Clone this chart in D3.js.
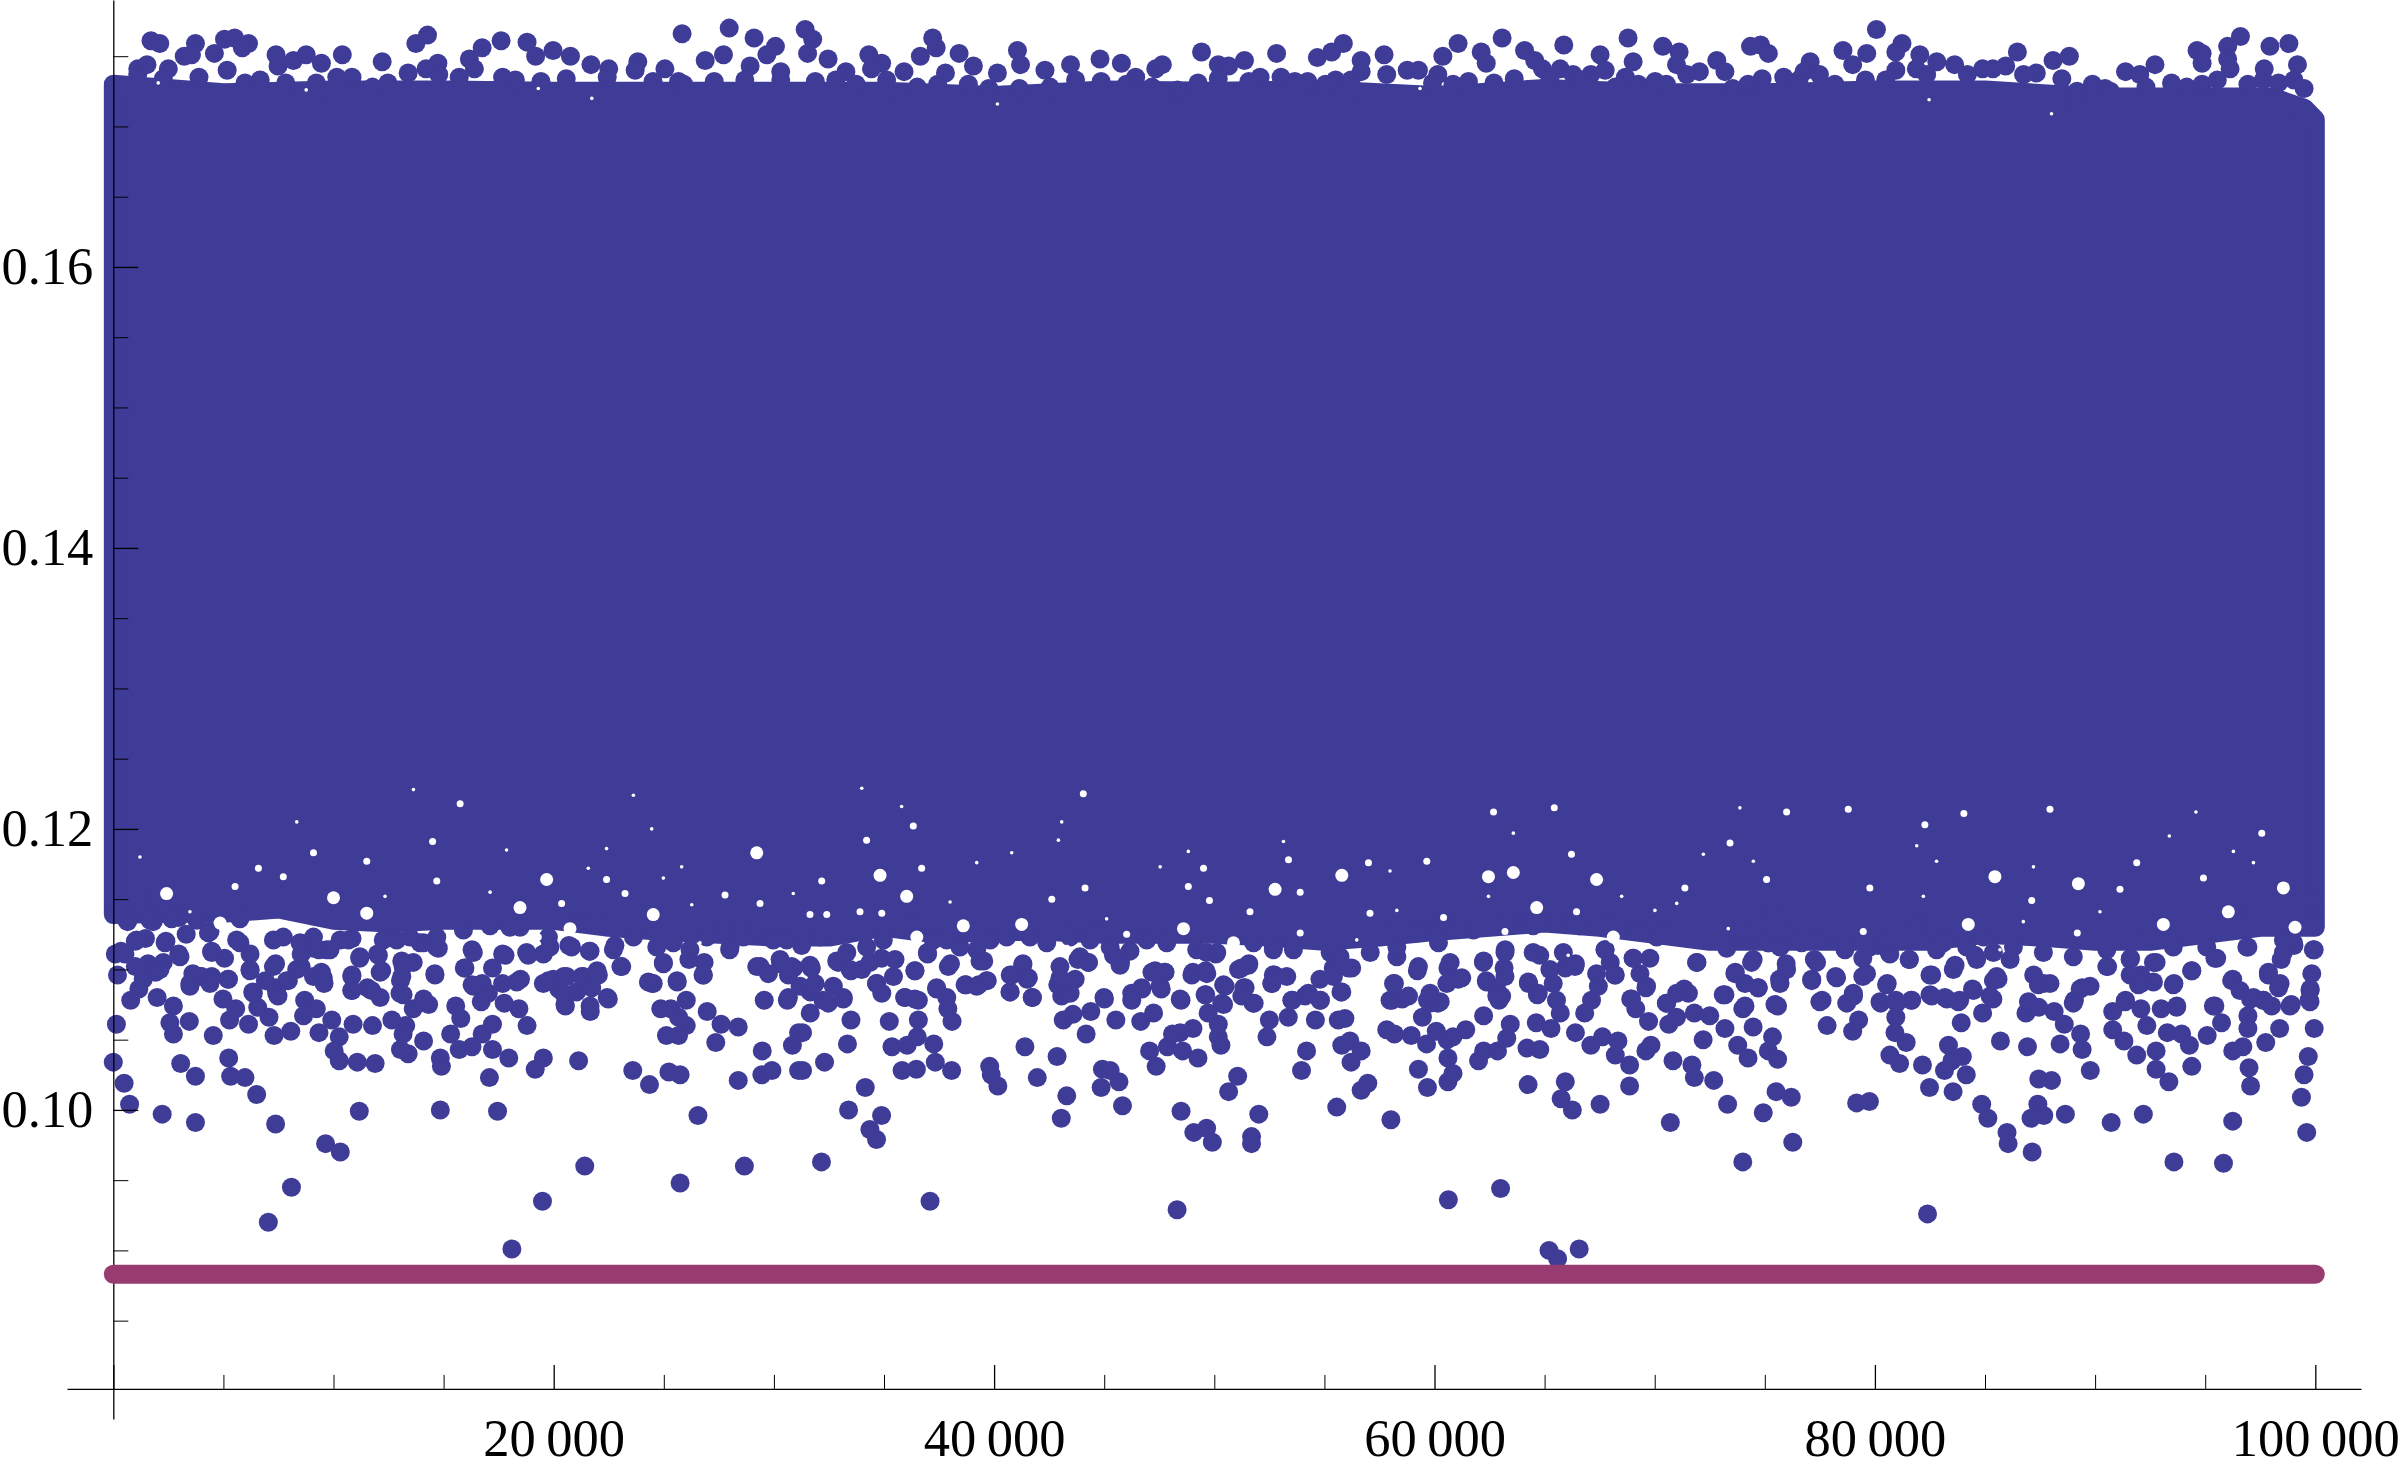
<!DOCTYPE html>
<html>
<head>
<meta charset="utf-8">
<script src="https://cdn.jsdelivr.net/npm/d3@7"></script>
<style>
  html, body { margin: 0; padding: 0; background: #fff; }
  svg { display: block; }
  text { font-family: "Liberation Serif", serif; }
</style>
</head>
<body>
<svg id="chart" width="2400" height="1469"></svg>
<script>
// tick labels
const xMajor = [0, 20000, 40000, 60000, 80000, 100000];
const xMinor = [5000, 10000, 15000, 25000, 30000, 35000, 45000, 50000, 55000, 65000, 70000, 75000, 85000, 90000, 95000];
const yMajor = [0.10, 0.12, 0.14, 0.16];
const yMinor = [0.085, 0.09, 0.095, 0.105, 0.11, 0.115, 0.125, 0.13, 0.135, 0.145, 0.15, 0.155, 0.165, 0.17, 0.175];

// horizontal line
const meanX = [1, 100000];
const meanY = 0.0883;

// the solid part of the cloud, too dense to read point by point: outline of the point centres
const topBandX = [1, 5000, 10000, 15000, 20000, 25000, 30000, 35000, 40000, 45000, 50000, 55000, 60000, 65000, 70000, 75000, 80000, 85000, 90000, 95000, 98000, 99500, 100000];
const topBandY = [.1730, .1724, .1726, .1726, .1725, .1725, .1725, .1725, .1722, .1726, .1725, .1726, .1722, .1727, .1724, .1724, .1726, .1726, .1721, .1721, .1721, .1713, .1705];
const lowBandX = [1, 2500, 5000, 7500, 10000, 12500, 15000, 17500, 20000, 22500, 25000, 27500, 30000, 32500, 35000, 37500, 40000, 42500, 45000, 47500, 50000, 52500, 55000, 57500, 60000, 62500, 65000, 67500, 70000, 72500, 75000, 77500, 80000, 82500, 85000, 87500, 90000, 92500, 95000, 97500, 100000];
const lowBandY = [.1139, .1140, .1140, .1143, .1135, .1133, .1135, .1135, .1135, .1130, .1127, .1125, .1123, .1123, .1130, .1125, .1127, .1127, .1125, .1125, .1125, .1123, .1120, .1123, .1127, .1130, .1133, .1130, .1125, .1120, .1120, .1120, .1120, .1120, .1125, .1123, .1120, .1120, .1125, .1130, .1130];

// single points along the top of the cloud
const topPoints = [
  [1710,.1761],[2110,.1759],[3730,.1759],[5050,.1762],[5510,.1763],[6140,.1759],[5860,.1756],[3220,.1750],[3550,.1751],[4590,.1752],[5170,.1740],[1110,.1741],[1530,.1744],[2500,.1741],
  [7390,.1751],[7480,.1743],[8180,.1747],[8760,.1751],[9450,.1745],[10400,.1751],[12210,.1746],[13390,.1738],[13740,.1759],[14270,.1765],[14740,.1745],[14200,.1741],[16170,.1748],[16750,.1756],[16400,.1741],
  [17610,.1761],[18790,.1760],[19180,.1750],[19970,.1754],[20760,.1750],[21690,.1744],[22500,.1741],[23820,.1746],[23700,.1740],[25050,.1741],[25830,.1766],[27970,.1770],[29100,.1763],[30070,.1757],[29680,.1751],[27710,.1751],[26880,.1747],[28920,.1743],
  [25670,.1732],[17680,.1735],[18260,.1733],[10840,.1735],[10150,.1735],[6670,.1733],[5980,.1731],[11770,.1728],[30310,.1739],
  [31420,.1769],[31760,.1762],[32460,.1748],[31530,.1752],[33270,.1739],[34310,.1751],[34890,.1745],[34430,.1741],[35910,.1739],[36650,.1750],[37210,.1763],[37370,.1756],[38410,.1752],[39060,.1743],[37790,.1738],[40150,.1738],
  [41060,.1754],[41200,.1744],[42310,.1740],[43470,.1744],[44810,.1748],[45780,.1745],[46430,.1735],[47340,.1741],[47640,.1744],[48330,.1726],[49420,.1753],[50180,.1744],[50650,.1743],[51370,.1747],[52080,.1735],[52830,.1752],[53030,.1735],[54240,.1732],
  [54680,.1749],[55330,.1753],[55860,.1759],[55510,.1733],[56670,.1747],[57710,.1751],[56670,.1739],[58760,.1740],[59270,.1740],[60150,.1737],[60380,.1750],[61070,.1759],[61540,.1732],[62120,.1753],[62350,.1745],[63070,.1763],[64090,.1754],[64550,.1747],[65710,.1741],[65870,.1758],[64900,.1741],[66290,.1737],[67100,.1737],[67520,.1751],
  [68790,.1763],[69020,.1746],[68670,.1735],[67750,.1740],[70020,.1732],[70370,.1757],[71110,.1753],[70990,.1744],[72030,.1739],[72820,.1747],[73190,.1739],[74350,.1757],[74810,.1758],[75160,.1752],[74880,.1734],[75860,.1735],[74240,.1730],
  [77060,.1746],[77480,.1737],[76780,.1739],[78550,.1754],[79630,.1752],[78990,.1744],[80070,.1769],[81230,.1759],[80950,.1753],[82040,.1751],[82810,.1746],[83620,.1744],[81880,.1741],[80950,.1740],[84890,.1741],[85360,.1741],[85940,.1743],[86470,.1753],[87330,.1738],[88090,.1747],[88830,.1750],[88490,.1734],
  [89880,.1730],[90450,.1727],[91380,.1739],[92030,.1737],[92720,.1744],[93470,.1731],[94630,.1754],[94860,.1752],[94860,.1745],[96600,.1764],[96020,.1757],[96020,.1748],[96130,.1741],[97940,.1757],[98800,.1759],[97680,.1741],[99190,.1744],[97640,.1733],[94860,.1730],[99030,.1733],[89180,.1722]
];

// lobes sitting right on the top edge of the band
const topEdgePoints = [
  [1110,.1737],[2270,.1734],[3890,.1735],[7830,.1731],[9220,.1731],[12470,.1731],[14780,.1737],[15710,.1735],[19420,.1732],[20570,.1734],[22430,.1735],[24510,.1732],[25900,.1730],[27290,.1732],[28680,.1733],[30310,.1733],
  [31880,.1732],[32810,.1733],[33730,.1730],[35120,.1733],[36510,.1728],[37440,.1730],[38830,.1730],[39760,.1727],[41150,.1727],[42540,.1728],[43700,.1733],[44860,.1732],[46010,.1730],[47170,.1728],[49260,.1731],[50180,.1734],[51570,.1732],[53660,.1732],[55050,.1730],[56210,.1733],[57830,.1737],[59910,.1731],[60840,.1730],[62700,.1731],[63620,.1734],[65240,.1734],[66640,.1733],
  [68210,.1728],[69250,.1730],[70530,.1730],[71450,.1737],[73540,.1727],[76550,.1733],[78180,.1730],[79570,.1733],[80490,.1733],[82350,.1737],[84200,.1737],[86750,.1737],[89180,.1725],[90690,.1725],[92310,.1728],[94160,.1728],[95550,.1733],[96940,.1730],[98330,.1731],[99490,.1727]
];

// single points below the cloud, 0 - 31000
const lowPointsA = [
  [0,.1034],[490,.1019],[740,.1004],[2220,.0997],[3730,.0991],[140,.1061],[190,.1096],[90,.1111],[350,.1113],[790,.1078],[1160,.1086],[1990,.1080],[2730,.1074],[2570,.1062],[2730,.1054],[3450,.1063],[4540,.1053],[3060,.1033],[3730,.1024],[5240,.1037],[5330,.1024],[5980,.1023],[6510,.1011],[7370,.0990],[9640,.0976],[10310,.0970],[8090,.0945],[7040,.0920],[11170,.0999],[14850,.1000],[17450,.0999],[21410,.0960],[19490,.0935],[18100,.0901],[25740,.0948],[28660,.0960],[26550,.0996],
  [14850,.1037],[14900,.1031],[17080,.1023],[17960,.1037],[19160,.1029],[19530,.1037],[21130,.1035],[23590,.1028],[24350,.1018],[25230,.1027],[25740,.1025],[28380,.1021],[29450,.1025],[29910,.1028],[31120,.1028],[29470,.1042],[30840,.1046],[27360,.1048],[28380,.1059],[27600,.1061],[26970,.1070],[29560,.1078],[30610,.1078],[31120,.1055],
  [24860,.1072],[25320,.1072],[26020,.1078],[25670,.1066],[26020,.1060],[25120,.1053],[25670,.1053],[21660,.1070],[20530,.1074],[22430,.1080],[21970,.1099],[21270,.1095],[20460,.1095],[19760,.1092],[20230,.1086],[21040,.1084],[21730,.1087],[24470,.1090],[25600,.1092],[23050,.1102],[24980,.1104],[26780,.1096],[26140,.1107],
  [18790,.1060],[17220,.1061],[16750,.1054],[17220,.1043],[16290,.1045],[15710,.1043],[15320,.1054],[18420,.1072],[17750,.1076],[16710,.1077],[15550,.1074],[15780,.1065],[14320,.1075],[13620,.1072],[14090,.1079],[14600,.1097],[18490,.1093],[17680,.1090],[16750,.1090],[16290,.1089],[15940,.1101],[17220,.1101],[17680,.1111],[18840,.1110],[16290,.1114],
  [13160,.1082],[13040,.1092],[13160,.1102],[13620,.1105],[12120,.1098],[12120,.1080],[11540,.1087],[10840,.1085],[10840,.1096],[11190,.1108],[12000,.1111],[9570,.1090],[9450,.1098],[8530,.1102],[7370,.1104],[6210,.1099],[7370,.1087],[7950,.1092],[6900,.1092],[6330,.1084],[7480,.1081],
  [8690,.1078],[9220,.1072],[8640,.1067],[9920,.1064],[9340,.1055],[10890,.1061],[11770,.1060],[12650,.1064],[13280,.1060],[13160,.1054],[14090,.1049],[13390,.1040],[13040,.1043],[10260,.1052],[10030,.1042],[10260,.1035],[11080,.1034],[11890,.1033],[8060,.1056],[7300,.1053],[7070,.1066],[6560,.1073],[6140,.1061],[5280,.1064],[5560,.1072],[4980,.1079],
  [5210,.1093],[4470,.1095],[4010,.1095],[3480,.1090],[3610,.1097],[4470,.1113],[5750,.1119],[6210,.1111],[5050,.1108],[2970,.1111],[2390,.1120],[2270,.1105],[1580,.1104],[1000,.1102],[1920,.1098],[1460,.1122],[1000,.1120],[530,.1111],[2970,.1137],[3310,.1125],[4360,.1127],[650,.1134],[1810,.1134],[300,.1145],[2040,.1150],[5750,.1136],
  [8530,.1111],[9340,.1114],[9690,.1114],[10840,.1122],[12700,.1123],[14090,.1119],[14670,.1116],[20690,.1117],[21620,.1113],[19530,.1111],[19760,.1123],[22780,.1117],[26830,.1105],[27990,.1114],[29380,.1102],[30310,.1104],[30890,.1101]
];

// 31000 - 67600
const lowPointsB = [
  [31300,.1055],[31300,.1028],[32300,.1034],[31650,.1069],[31700,.1101],[31650,.1084],[32230,.1078],[33150,.1079],[33500,.1064],[33340,.1047],[34150,.1016],[33390,.1000],[34890,.0996],[34360,.0986],[34660,.0979],[32160,.0963],[37090,.0935],[48310,.0929],[60630,.0936],[63000,.0944],[65200,.0900],[66570,.0901],[65590,.0894],
  [35820,.1028],[36470,.1029],[37330,.1034],[38070,.1028],[35360,.1045],[36050,.1046],[36510,.1052],[37260,.1047],[35240,.1063],[36560,.1064],[35940,.1080],[36400,.1079],[36400,.1099],[37390,.1086],[37900,.1072],[38090,.1063],[36980,.1111],[38020,.1104],[38720,.1089],[39300,.1089],[39690,.1092],[39530,.1106],[33500,.1099],[32920,.1105],[34890,.1108],[34660,.1090],
  [39800,.1031],[39870,.1025],[40170,.1017],[41400,.1045],[41960,.1023],[42860,.1038],[40730,.1096],[41310,.1104],[41500,.1093],[40730,.1084],[41730,.1080],[43300,.1010],[43050,.0994],[45830,.1003],[44920,.1029],[45670,.1020],[44860,.1016],[45270,.1028],[43140,.1064],[43580,.1068],[44180,.1054],[44390,.1070],[44990,.1080],[45530,.1064],[46250,.1078],[46710,.1086],[46660,.1063],[47240,.1069],[42890,.1089],[43470,.1090],[43810,.1107],[44280,.1105],[45740,.1105],[47170,.1098],[47750,.1098],[47590,.1086],
  [48450,.1079],[48450,.1055],[49030,.1058],[48100,.1054],[47870,.1045],[48560,.1042],[49260,.1037],[47060,.1042],[47360,.1031],[50180,.1061],[50180,.1052],[50300,.1046],[49720,.1069],[49610,.1082],[50420,.1075],[50420,.1089],[49030,.1098],[49610,.1099],[50070,.1111],[51230,.1101],[51570,.1104],[51340,.1087],[51760,.1076],
  [48490,.0999],[49070,.0984],[49650,.0987],[49910,.0977],[51690,.0981],[51690,.0976],[52020,.0997],[50650,.1013],[51060,.1024],[52500,.1064],[52390,.1052],[53360,.1066],[52620,.1090],[52730,.1096],[53540,.1078],[54120,.1081],[54590,.1064],[54820,.1078],[55750,.1084],[55630,.1064],[55930,.1065],[55400,.1101],[56090,.1101],
  [54190,.1042],[53960,.1028],[55790,.1046],[56160,.1049],[56670,.1042],[56210,.1034],[55560,.1002],[56670,.1014],[56970,.1019],[58020,.0993],[57830,.1057],[58180,.1054],[58940,.1053],[59640,.1047],[60080,.1056],[60570,.1050],[60840,.1052],[61420,.1057],[60610,.1037],[59270,.1029],[59680,.1016],[60610,.1020],[60840,.1026],[62000,.1035],[62230,.1042],[62860,.1042],
  [58060,.1078],[58530,.1079],[59450,.1066],[60150,.1076],[59680,.1078],[58180,.1090],[59220,.1099],[61070,.1093],[60610,.1101],[62230,.1106],[63210,.1114],[63160,.1101],[62350,.1092],[62810,.1087],[62930,.1078],[62230,.1067],[63440,.1061],[63280,.1051],[64270,.1090],[64670,.1082],[65710,.1069],[64620,.1062],[65290,.1058],[66400,.1055],[67100,.1046],[64200,.1044],[64780,.1043],[64250,.1018],[65940,.1020],[65750,.1008],[66260,.1000],[67520,.1004],[66820,.1069],[65940,.1101],[66400,.1104],[64780,.1110]
];

// 67600 - 100000
const lowPointsC = [
  [68860,.1017],[68860,.1032],[68210,.1039],[67630,.1052],[68330,.1049],[69600,.1042],[69830,.1046],[70830,.1035],[71690,.1032],[71800,.1023],[72680,.1021],[70710,.0991],[73310,.1004],[74930,.0998],[75510,.1013],[76200,.1009],[76270,.0977],[74000,.0963],[72200,.1050],[70640,.1061],[70990,.1066],[72500,.1067],[73190,.1058],[73770,.1046],[74240,.1037],[75160,.1042],[75580,.1036],[75350,.1052],[74470,.1059],[74000,.1072],[73190,.1082],[73660,.1098],[74470,.1107],[74700,.1087],[75580,.1074],[75670,.1093],[75970,.1104],[75160,.1119],[75740,.1117],
  [71340,.1086],[70530,.1076],[71800,.1069],[69140,.1072],[69720,.1063],[68910,.1079],[69600,.1087],[67980,.1105],[68210,.1096],[67750,.1114],[69020,.1108],[71920,.1105],
  [77130,.1093],[77250,.1107],[77600,.1078],[78220,.1095],[77830,.1060],[78990,.1056],[79260,.1064],[79030,.1081],[78640,.1114],[79450,.1095],[79450,.1108],[80140,.1117],[79170,.1005],[79750,.1006],[80680,.1111],[81560,.1107],[82580,.1096],[82000,.1131],
  [80560,.1090],[80260,.1076],[80950,.1078],[81650,.1078],[80950,.1066],[80910,.1055],[81420,.1048],[80680,.1039],[81120,.1033],[82160,.1032],[83340,.1046],[83970,.1038],[83500,.1035],[83160,.1028],[84150,.1025],[82480,.1016],[83550,.1013],[82390,.0926],
  [82580,.1081],[83270,.1079],[83850,.1078],[84430,.1086],[85360,.1079],[84890,.1069],[83920,.1062],[85700,.1049],[86930,.1045],[88410,.1047],[86860,.1069],[87440,.1073],[88140,.1070],[88600,.1061],[89340,.1054],[89410,.1043],[89780,.1028],[87440,.1022],[88020,.1021],[84850,.1004],[85130,.0994],[86000,.0984],[86050,.0976],[87140,.0970],[87400,.1004],[87090,.0994],[87670,.0996],[88650,.0997],[90730,.0991],[92190,.0997],
  [89060,.1078],[89410,.1087],[87670,.1090],[85590,.1093],[87210,.1096],[90570,.1102],[91610,.1108],[90800,.1070],[91380,.1078],[92080,.1072],[90800,.1057],[91310,.1049],[91890,.1039],[92350,.1060],[93000,.1072],[93700,.1073],[92770,.1042],[92770,.1029],[93350,.1020],[93280,.1055],[93930,.1054],[94280,.1046],[94390,.1031],[93580,.0963],[95830,.0962],[96250,.0992],
  [95440,.1074],[95740,.1062],[95090,.1053],[96250,.1042],[96710,.1045],[96990,.1030],[97060,.1017],[96940,.1067],[96940,.1058],[97750,.1048],[98380,.1058],[97640,.1078],[97060,.1079],[96250,.1093],[97870,.1098],[98330,.1087],[98910,.1075],[99720,.1078],[99770,.1086],[99950,.1058],[99680,.1038],[99490,.1025],[99370,.1009],[99610,.0984],
  [92080,.1096],[92770,.1105],[93580,.1090],[92080,.1090],[94390,.1099],[95440,.1108],[96940,.1116],[99030,.1117],[96320,.1141],[98450,.1107],[99950,.1114]
];

// points crowding the lower edge of the solid band
const edgePoints = [
  [610,.1135],[1060,.1121],[1670,.1135],[1970,.1152],[2650,.1136],[2350,.1119],[3030,.1109],[1360,.1093],[2120,.1100],[3940,.1095],[3480,.1088],[4390,.1090],[5230,.1093],[4470,.1112],[4320,.1126],[3790,.1135],[5680,.1138],[5600,.1121],[6210,.1100],[6360,.1083],[7420,.1083],[7270,.1102],[8330,.1100],[9090,.1095],[9540,.1094],[7870,.1092],[7270,.1121],[8480,.1119],[9090,.1115],[9840,.1114],[10680,.1121],[11200,.1109],[10830,.1095],[10830,.1085],[11730,.1085],[12190,.1099],[12040,.1110],[12870,.1121],[13020,.1083],[13100,.1095],[13100,.1106],[13930,.1119],[14760,.1115],[14610,.1096],[15970,.1101],[16350,.1112],[16350,.1088],[17030,.1083],
  [18010,.1130],[17790,.1110],[18770,.1112],[18320,.1091],[19530,.1090],[19980,.1093],[20590,.1095],[21350,.1095],[22030,.1096],[20440,.1083],[21650,.1074],[20510,.1075],[22480,.1079],[20810,.1116],[21650,.1113],[22710,.1114],[23090,.1102],[24520,.1090],[24300,.1091],[24980,.1105],[25610,.1091],[26800,.1096],[24680,.1116],[26190,.1114],[28010,.1116],[29220,.1126],[29970,.1121],[31260,.1117],[32090,.1123],[32850,.1106],[29220,.1102],[29750,.1097],[30280,.1107],[30810,.1102],[31640,.1103],[30660,.1096],[31190,.1088],[30660,.1080],[31870,.1090],[32700,.1088],[33150,.1080],[32470,.1076],[33460,.1100],[33990,.1100],[34900,.1083],[34670,.1090],[35430,.1095],[34370,.1105],[33310,.1112],[36410,.1099],[35950,.1080],[36560,.1078],[37390,.1087],[37850,.1080],[36970,.1112],[37920,.1102],[39360,.1106],[38680,.1089],[39210,.1088],[39660,.1092],[35500,.1107],[36330,.1133],[37850,.1121],[39210,.1114],
  [40800,.1096],[41300,.1103],[41560,.1094],[40720,.1084],[41740,.1080],[42990,.1094],[43070,.1081],[43680,.1093],[43450,.1083],[42990,.1102],[43900,.1109],[44280,.1105],[45720,.1103],[45420,.1110],[46170,.1113],[47310,.1099],[47760,.1098],[47540,.1088],[46250,.1083],[46700,.1087],[45010,.1079],[48490,.1078],[48980,.1096],[49660,.1097],[50110,.1112],[49580,.1082],[50490,.1088],[50340,.1076],[51400,.1087],[51250,.1081],[51810,.1076],[51100,.1100],[51550,.1103],[52680,.1096],[52610,.1090],[53290,.1095],[52680,.1114],[53520,.1078],[54270,.1083],[54800,.1078],[55790,.1084],[55410,.1095],[56240,.1101],[54800,.1093],[57080,.1112],[58290,.1109],[58140,.1090],[57980,.1078],[58820,.1081],[59800,.1076],[60260,.1077],[60560,.1090],[61240,.1094],[60710,.1105],[60180,.1119],[59270,.1102],[59800,.1083],[62220,.1105],[62370,.1091],[62830,.1081],[60400,.1135],[61770,.1128],[46930,.1121],[47840,.1119],[49200,.1114],[52680,.1116],[55260,.1112],
  [63200,.1112],[63200,.1095],[63050,.1081],[63420,.1135],[64260,.1091],[64710,.1083],[65390,.1090],[65540,.1078],[64480,.1112],[65240,.1100],[66380,.1102],[65850,.1112],[67130,.1078],[67440,.1088],[67360,.1097],[68190,.1096],[67740,.1114],[67130,.1135],[69030,.1108],[69330,.1097],[68950,.1079],[69630,.1088],[69780,.1108],[70540,.1076],[71530,.1083],[71000,.1083],[71900,.1105],[73270,.1115],[73110,.1082],[73640,.1097],[74100,.1090],[74700,.1087],[74400,.1105],[74100,.1074],[75160,.1119],[75690,.1116],[75310,.1140],[76290,.1137],[75990,.1100],[75690,.1090],[75460,.1075],[76670,.1119],[77130,.1092],[77350,.1105],[78260,.1094],[77500,.1077],[78720,.1076],[79020,.1083],[78640,.1119],[79620,.1097],[79770,.1116],[80650,.1112],[81560,.1107],[80530,.1089],[80230,.1077],[80990,.1076],[81670,.1078],[82500,.1082],[83180,.1080],[83790,.1077],[84470,.1085],[85230,.1081],[82500,.1096],[83560,.1100],[84620,.1107],[82800,.1114],[81900,.1130],[85380,.1092],
  [83640,.1103],[84550,.1110],[85530,.1095],[86140,.1107],[87420,.1089],[87950,.1090],[86970,.1077],[89010,.1076],[89320,.1086],[89770,.1088],[90530,.1102],[91590,.1107],[91590,.1096],[92650,.1105],[91970,.1089],[92650,.1091],[93550,.1089],[91360,.1077],[93710,.1074],[94390,.1099],[95520,.1108],[96200,.1092],[96580,.1085],[96890,.1116],[97870,.1096],[98400,.1090],[97640,.1078],[97190,.1080],[98020,.1074],[98850,.1074],[99760,.1077],[99760,.1085],[99840,.1097],[99910,.1114],[99910,.1133],[99840,.1151],[99010,.1119],[98550,.1112],[95370,.1074],
  [80,.1140],[4390,.1127],[7720,.1123],[9090,.1123],[10300,.1121],[12260,.1121],[13470,.1123],[14690,.1123],[15900,.1128],[17110,.1131],
  [18470,.1130],[19830,.1116],[21190,.1133],[23620,.1123],[25430,.1119],[26950,.1123],[28610,.1123],[30580,.1121],[34210,.1116],[34970,.1121],[37240,.1121],[38450,.1116],[39820,.1121],
  [40570,.1123],[41630,.1123],[42390,.1119],[43450,.1123],[44360,.1121],[45270,.1116],[49660,.1112],[51780,.1119],[53590,.1114],[55710,.1109],[58290,.1116],[59200,.1126],
  [64480,.1131],[65540,.1133],[66600,.1131],[69030,.1128],[70090,.1123],[74020,.1126],[77350,.1121],[80680,.1123],[83110,.1119],[84170,.1116],[85380,.1112],
  [84930,.1123],[86290,.1116],[87650,.1112],[89010,.1109],[90530,.1114],[91740,.1121],[93550,.1116],[95070,.1116],[98550,.1121]
];

// places inside the solid band where the white page shows through, by size
const wideGaps = [
  [10000,.1151],[11510,.1140],[2420,.1154],[29220,.1183],[34820,.1167],[36030,.1152],[38600,.1131],[19680,.1164],[24520,.1139],[18470,.1144],[55790,.1167],[62450,.1166],[52760,.1157],[48600,.1129],[41250,.1132],[64640,.1144],[67360,.1164],[63580,.1169],[85450,.1166],[89240,.1161],[98550,.1158],[84240,.1132],[99080,.1130],[93100,.1132],
  [4850,.1133],[20740,.1129],[36490,.1123],[50870,.1119],[68120,.1123],[96050,.1141]
];
const midGaps = [
  [6590,.1172],[14500,.1191],[15750,.1218],[14690,.1163],[11510,.1177],[9090,.1183],[7720,.1166],[5530,.1159],[34210,.1192],[32170,.1163],[22400,.1164],[23240,.1154],[20360,.1147],[27780,.1153],[32400,.1139],[31640,.1139],[33910,.1141],[34900,.1140],[36330,.1202],[29370,.1147],[36710,.1172],
  [57070,.1140],[44130,.1158],[48820,.1159],[62680,.1212],[49780,.1149],[42620,.1150],[51620,.1141],[53900,.1155],[59650,.1177],[53370,.1178],[57000,.1176],[60410,.1137],[49510,.1172],[44050,.1225],
  [66450,.1141],[73420,.1190],[75080,.1164],[78790,.1214],[71370,.1158],[75990,.1212],[82270,.1203],[84040,.1211],[79770,.1158],[66220,.1182],[65440,.1215],[91130,.1157],[94920,.1165],[97570,.1197],[91890,.1176],[87120,.1149],[89190,.1126],[87950,.1214],
  [19300,.1123],[53900,.1126],[46020,.1125],[43300,.1115],[63200,.1127],[79470,.1127]
];
const thinGaps = [
  [8330,.1205],[13630,.1228],[1210,.1180],[12340,.1152],[17110,.1155],[22400,.1186],[21570,.1172],[23620,.1224],[17860,.1185],[25810,.1173],[33990,.1229],[24980,.1165],[26270,.1146],[38000,.1148],[39210,.1176],[30880,.1154],[35800,.1216],[24450,.1200],
  [47540,.1173],[40800,.1183],[42920,.1192],[43070,.1205],[48820,.1184],[57980,.1170],[53140,.1191],[62450,.1152],[58290,.1142],[45110,.1136],
  [72210,.1182],[74480,.1177],[81900,.1188],[73870,.1215],[70010,.1142],[68500,.1152],[71000,.1147],[82800,.1177],[73340,.1129],[82200,.1152],[63580,.1197],[94580,.1212],[97190,.1176],[96280,.1184],[93370,.1195],[86740,.1134],[90220,.1141],[87200,.1173],
  [3480,.1141],[26640,.1119],[56470,.1121],[66070,.1110],[85680,.1114],
  [21730,.1720],[19300,.1727],[8760,.1726],[2040,.1731],[40150,.1716],[59340,.1727],[88020,.1709],[82460,.1719]
];

const blue = '#3f3c98';
const purple = '#983b70';
const pointRadius = 9.5;
const fontSize = 52.5;

const svg = d3.select('#chart');

const x = d3.scaleLinear().domain([-2103, 102075]).range([67, 2361]);
const y = d3.scaleLinear().domain([0.1790, 0.0780]).range([0, 1419]);

// solid band: its outline is stroked at the point diameter, so it is as wide as the points would be
const band = topBandX.map((d, i) => [d, topBandY[i]]).concat(lowBandX.map((d, i) => [d, lowBandY[i]]).reverse());
svg.append('path')
  .attr('d', d3.line().x(d => x(d[0])).y(d => y(d[1])).curve(d3.curveLinearClosed)(band))
  .attr('fill', blue)
  .attr('stroke', blue)
  .attr('stroke-width', pointRadius * 2)
  .attr('stroke-linejoin', 'round');

svg.append('g').selectAll('circle')
  .data(topPoints.concat(topEdgePoints, lowPointsA, lowPointsB, lowPointsC, edgePoints))
  .join('circle')
  .attr('cx', d => x(d[0]))
  .attr('cy', d => y(d[1]))
  .attr('r', pointRadius)
  .attr('fill', blue);

const drawGaps = (gaps, r) => svg.append('g').selectAll('circle')
  .data(gaps)
  .join('circle')
  .attr('cx', d => x(d[0]))
  .attr('cy', d => y(d[1]))
  .attr('r', r)
  .attr('fill', '#fff');

drawGaps(wideGaps, 6.5);
drawGaps(midGaps, 3.5);
drawGaps(thinGaps, 1.8);

// axes sit over the points, with the ticks turned into the plot
const xFormat = d => d === 0 ? '' : d3.format(',')(d).replace(',', '\u2009');
const xAxis = svg.append('g')
  .attr('transform', `translate(0,${y(0.08014)})`)
  .call(d3.axisBottom(x).tickValues(xMajor).tickFormat(xFormat).tickSizeInner(-24).tickSizeOuter(0).tickPadding(30));
xAxis.append('g').selectAll('line')
  .data(xMinor)
  .join('line')
  .attr('x1', d => x(d) + 0.5)
  .attr('x2', d => x(d) + 0.5)
  .attr('y2', -14)
  .attr('stroke', '#000');

const yAxis = svg.append('g')
  .attr('transform', `translate(${x(0)},0)`)
  .call(d3.axisLeft(y).tickValues(yMajor).tickFormat(d3.format('.2f')).tickSizeInner(-25).tickSizeOuter(0).tickPadding(20));
yAxis.append('g').selectAll('line')
  .data(yMinor)
  .join('line')
  .attr('y1', d => y(d) + 0.5)
  .attr('y2', d => y(d) + 0.5)
  .attr('x2', 15)
  .attr('stroke', '#000');

svg.selectAll('.tick text').attr('font-size', fontSize).attr('font-family', '"Liberation Serif", serif').attr('fill', '#000');
svg.selectAll('.domain, .tick line').attr('stroke', '#000').attr('stroke-width', 1.3);

// the line goes over everything
svg.append('path')
  .attr('d', d3.line().x(d => x(d)).y(() => y(meanY))(meanX))
  .attr('fill', 'none')
  .attr('stroke', purple)
  .attr('stroke-width', 19)
  .attr('stroke-linecap', 'round');
</script>
</body>
</html>
